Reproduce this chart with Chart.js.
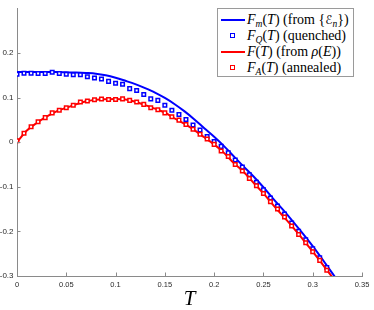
<!DOCTYPE html>
<html>
<head>
<meta charset="utf-8">
<script src="https://cdn.jsdelivr.net/npm/chart.js@4/dist/chart.umd.min.js"></script>
<style>
  html, body { margin: 0; padding: 0; background: #fff; }
  #wrap { position: relative; width: 374px; height: 310px; }
  #c { position: absolute; left: 0; top: 0; }
  #legend {
    position: absolute; left: 217px; top: 8px; width: 137px; height: 69px;
    box-sizing: border-box; border: 1px solid #9a9a9a; background: #fff;
    font-family: "Liberation Serif", "DejaVu Serif", serif; font-size: 14px; color: #000;
  }
  .row { position: absolute; left: 0; height: 16px; line-height: 16px; white-space: nowrap; }
  .sample { position: absolute; left: 3px; width: 24px; height: 16px; }
  .ln { position: absolute; left: 0; top: 7px; width: 24px; height: 2px; }
  .sq { position: absolute; left: 9px; top: 5px; width: 3px; height: 3px; border: 1.5px solid; background: #fff; }
  .txt { position: absolute; left: 29px; top: 0; }
  .txt sub { font-size: 9.5px; vertical-align: -3px; line-height: 0; }
  .scr { font-family: "DejaVu Sans", sans-serif; font-style: normal; font-size: 12px; }
  i { font-style: italic; }
</style>
</head>
<body>
<div id="wrap">
  <canvas id="c" width="374" height="310"></canvas>
  <div id="legend">
    <div class="row" style="top:3px"><div class="sample"><div class="ln" style="background:#0000ff"></div></div>
      <span class="txt"><i>F</i><sub><i>m</i></sub>(<i>T</i>) (from {<span class="scr">ℰ</span><sub><i>n</i></sub>})</span></div>
    <div class="row" style="top:19px"><div class="sample"><div class="sq" style="border-color:#0000ff"></div></div>
      <span class="txt"><i>F</i><sub><i>Q</i></sub>(<i>T</i>) (quenched)</span></div>
    <div class="row" style="top:35px"><div class="sample"><div class="ln" style="background:#ff0000"></div></div>
      <span class="txt"><i>F</i>(<i>T</i>) (from <i>ρ</i>(<i>E</i>))</span></div>
    <div class="row" style="top:50.5px"><div class="sample"><div class="sq" style="border-color:#ff0000"></div></div>
      <span class="txt"><i>F</i><sub><i>A</i></sub>(<i>T</i>) (annealed)</span></div>
  </div>
</div>
<script>
// ---- data ----
const T_LINE = [0, 0.01, 0.02, 0.03, 0.04, 0.05, 0.06, 0.07, 0.08, 0.09, 0.10, 0.11, 0.12, 0.13, 0.14, 0.15, 0.16,
  0.17, 0.18, 0.19, 0.20, 0.21, 0.22, 0.23, 0.24, 0.25, 0.26, 0.27, 0.28, 0.29, 0.30, 0.31, 0.32, 0.33];
const F_M = [0.157, 0.157, 0.157, 0.157, 0.157, 0.1565, 0.156, 0.155, 0.1535, 0.150, 0.1445, 0.1375, 0.130, 0.121,
  0.111, 0.099, 0.085, 0.069, 0.051, 0.031, 0.012, -0.009, -0.032, -0.055, -0.077, -0.101, -0.127, -0.152, -0.178,
  -0.205, -0.233, -0.263, -0.294, -0.326];
const F_RHO = [0.0, 0.026, 0.043, 0.057, 0.069, 0.077, 0.085, 0.0915, 0.0953, 0.096, 0.0965, 0.0955, 0.0905, 0.083,
  0.075, 0.066, 0.053, 0.041, 0.027, 0.011, -0.005, -0.024, -0.047, -0.067, -0.091, -0.115, -0.141, -0.166, -0.191,
  -0.218, -0.2455, -0.274, -0.303, -0.333];
const T_SQ = [0, 0.0071, 0.0143, 0.0214, 0.0286, 0.0357, 0.0429, 0.05, 0.0571, 0.0643, 0.0714, 0.0786, 0.0857, 0.0929,
  0.1, 0.1071, 0.1143, 0.1214, 0.1286, 0.1357, 0.1429, 0.15, 0.1571, 0.1643, 0.1714, 0.1786, 0.1857, 0.1929, 0.2,
  0.2071, 0.2143, 0.2214, 0.2286, 0.2357, 0.2429, 0.25, 0.2571, 0.2643, 0.2714, 0.2786, 0.2857, 0.2929, 0.3, 0.3071, 0.3143];
const F_Q = [0.1524, 0.1546, 0.1546, 0.1539, 0.1539, 0.1568, 0.1539, 0.1524, 0.1509, 0.1509, 0.1465, 0.1436, 0.1413,
  0.1362, 0.1318, 0.130, 0.120, 0.1157, 0.107, 0.097, 0.0936, 0.0826, 0.0715, 0.062, 0.0508, 0.0384, 0.0274, 0.0126,
  0.0015, -0.0095, -0.024, -0.040, -0.056, -0.073, -0.090, -0.107, -0.125, -0.143, -0.161, -0.181, -0.200, -0.219,
  -0.239, -0.259, -0.281];
const F_A = [0.003, 0.020, 0.0347, 0.0457, 0.055, 0.0656, 0.0715, 0.0773, 0.0826, 0.0898, 0.092, 0.095, 0.0965, 0.0958,
  0.0958, 0.097, 0.0936, 0.0898, 0.0847, 0.0773, 0.0728, 0.0656, 0.0567, 0.0494, 0.0397, 0.0287, 0.0177, 0.007, -0.005,
  -0.020, -0.032, -0.050, -0.0647, -0.0817, -0.0978, -0.115, -0.1335, -0.150, -0.168, -0.188, -0.207, -0.2255, -0.2455,
  -0.265, -0.287];
const X_TICKS = [0, 0.05, 0.1, 0.15, 0.2, 0.25, 0.3, 0.35];
const Y_TICKS = [-0.3, -0.2, -0.1, 0, 0.1, 0.2];

const pts = (xs, ys) => xs.map((x, i) => ({ x: x, y: ys[i] }));

const inwardTicks = {
  id: 'inwardTicks',
  afterDatasetsDraw(chart) {
    const { ctx, chartArea: a, scales: { x, y } } = chart;
    ctx.save();
    ctx.strokeStyle = '#8a8a8a';
    ctx.lineWidth = 1;
    ctx.beginPath();
    X_TICKS.forEach(v => { const px = Math.round(x.getPixelForValue(v)) + 0.5; ctx.moveTo(px, a.bottom); ctx.lineTo(px, a.bottom - 3.5); });
    Y_TICKS.forEach(v => { const py = Math.round(y.getPixelForValue(v)) + 0.5; ctx.moveTo(a.left, py); ctx.lineTo(a.left + 3.5, py); });
    ctx.stroke();
    ctx.restore();
  }
};

const tickFont = { family: '"Liberation Sans", Arial, sans-serif', size: 8 };

new Chart(document.getElementById('c'), {
  type: 'scatter',
  data: {
    datasets: [
      { label: 'F_m(T) (from {E_n})', data: pts(T_LINE, F_M), showLine: true, borderColor: '#0000ff',
        borderWidth: 2, pointRadius: 0, cubicInterpolationMode: 'monotone', order: 4 },
      { label: 'F_Q(T) (quenched)', data: pts(T_SQ, F_Q), showLine: false, pointStyle: 'rect', pointRadius: 2.5,
        borderColor: '#0000ff', backgroundColor: '#ffffff', pointBorderWidth: 1.5, order: 3 },
      { label: 'F(T) (from rho(E))', data: pts(T_LINE, F_RHO), showLine: true, borderColor: '#ff0000',
        borderWidth: 2, pointRadius: 0, cubicInterpolationMode: 'monotone', order: 2 },
      { label: 'F_A(T) (annealed)', data: pts(T_SQ, F_A), showLine: false, pointStyle: 'rect', pointRadius: 2.5,
        borderColor: '#ff0000', backgroundColor: '#ffffff', pointBorderWidth: 1.5, order: 1 }
    ]
  },
  options: {
    responsive: false,
    animation: false,
    layout: { padding: { left: 0, right: 12, top: 0, bottom: 0 } },
    plugins: { legend: { display: false }, tooltip: { enabled: false } },
    elements: { point: { hoverRadius: 2.5 } },
    scales: {
      x: {
        type: 'linear', min: 0, max: 0.35,
        afterBuildTicks: s => { s.ticks = X_TICKS.map(v => ({ value: v })); },
        afterFit: s => { s.height = 34; },
        grid: { display: false, drawTicks: false },
        border: { display: true, color: '#8a8a8a', width: 1 },
        ticks: { font: { family: '"Liberation Sans", Arial, sans-serif', size: 7.5 }, color: '#2a2a2a', padding: 4, maxRotation: 0,
          callback: v => String(parseFloat(v.toFixed(2))) },
        title: { display: true, text: 'T', color: '#000', padding: { top: 0, bottom: 0 },
          font: { family: '"Liberation Serif", "DejaVu Serif", serif', size: 21, style: 'italic', lineHeight: 1 } }
      },
      y: {
        type: 'linear', min: -0.3, max: 0.3,
        afterBuildTicks: s => { s.ticks = Y_TICKS.map(v => ({ value: v })); },
        afterFit: s => { s.width = 17; },
        grid: { display: false, drawTicks: false },
        border: { display: true, color: '#8a8a8a', width: 1 },
        ticks: { font: tickFont, color: '#2a2a2a', padding: 3.5,
          callback: v => (v < 0 ? '-' : '') + String(Math.abs(Math.round(v * 10) / 10)) }
      }
    }
  },
  plugins: [inwardTicks]
});
</script>
</body>
</html>
